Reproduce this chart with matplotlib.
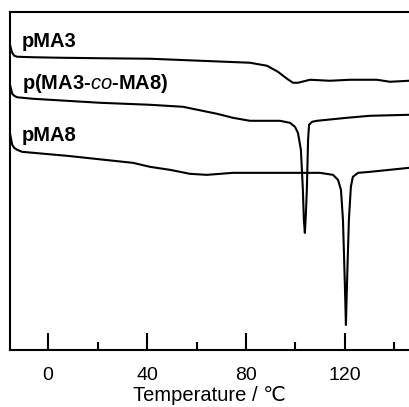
import numpy as np
import matplotlib
matplotlib.use('Agg')
import matplotlib.pyplot as plt

# DSC traces (temperature in C, heat flow in a.u.)
t_pma3 = [-15.4, -14.9, -14.5, -13.7, -12.5, -6.1, 4.8, 21.0, 41.2, 61.4, 81.6, 88.5,
          92.9, 96.6, 99.0, 101.0, 105.9, 113.9, 122.0, 132.9, 138.2, 145.9]
hf_pma3 = [30.5, 30.0, 29.7, 29.4, 29.3, 29.25, 29.2, 29.15, 29.1, 28.9, 28.7, 28.4,
           27.8, 27.1, 26.7, 26.7, 27.0, 26.9, 27.0, 27.0, 26.8, 26.9]

t_co = [-15.4, -14.9, -14.5, -13.7, -12.5, -6.1, 21.0, 41.2, 54.5, 68.3, 74.7, 81.6,
        93.7, 97.8, 99.8, 101.0, 102.2, 103.0, 103.4, 103.8, 104.2, 104.6, 105.1,
        105.5, 106.7, 108.7, 120.8, 130.1, 145.9]
hf_co = [26.5, 26.0, 25.6, 25.4, 25.25, 25.1, 24.7, 24.5, 24.3, 23.6, 23.2, 22.9,
         22.9, 22.7, 22.3, 21.7, 20.0, 16.0, 13.0, 11.7, 13.5, 16.0, 21.0,
         22.5, 22.8, 22.9, 23.2, 23.4, 23.5]

t_pma8 = [-15.4, -14.9, -14.5, -13.7, -12.5, -10.5, 7.7, 34.3, 41.2, 49.3, 57.4, 64.2,
          74.7, 94.9, 109.9, 115.2, 117.2, 118.4, 119.2, 119.6, 120.0, 120.4, 120.8,
          121.2, 121.6, 122.4, 123.2, 125.3, 130.1, 145.9]
hf_pma8 = [21.6, 21.0, 20.5, 20.2, 20.0, 19.8, 19.4, 18.7, 18.3, 18.0, 17.6, 17.5,
           17.7, 17.7, 17.7, 17.5, 17.0, 16.0, 13.0, 9.7, 6.3, 2.5, 6.3,
           9.7, 13.0, 16.3, 17.3, 17.7, 17.8, 18.2]

names = ['pMA3', 'p(MA3-$\\mathit{co}$-MA8)', 'pMA8']
label_y = [30.3, 26.1, 20.9]

major_ticks = [0, 40, 80, 120]
minor_ticks = [20, 60, 100, 140]

plt.rcParams['font.family'] = ['Liberation Sans', 'DejaVu Sans']
plt.rcParams['mathtext.fontset'] = 'custom'
plt.rcParams['mathtext.it'] = 'Liberation Sans:italic'
plt.rcParams['mathtext.rm'] = 'Liberation Sans:bold'

fig = plt.figure(figsize=(4.09, 4.07), dpi=100)
ax = fig.add_axes([10/409, 57/407, 399/409, 338.3/407])

for t, hf in [(t_pma3, hf_pma3), (t_co, hf_co), (t_pma8, hf_pma8)]:
    ax.plot(t, hf, color='black', lw=1.5, solid_joinstyle='round')

for name, y in zip(names, label_y):
    ax.text(-10.5, y, name, fontsize=14.5, fontweight='bold', va='baseline', ha='left')

ax.set_xlim(-15.4, 145.9)
ax.set_ylim(0, 33.8)
ax.set_xticks(major_ticks)
ax.set_xticks(minor_ticks, minor=True)
ax.set_yticks([])
ax.tick_params(axis='x', which='major', direction='in', length=12, width=1.5,
               labelsize=14, pad=12)
ax.tick_params(axis='x', which='minor', direction='in', length=6, width=1.5)
ax.spines['right'].set_visible(False)
for s in ['left', 'top', 'bottom']:
    ax.spines[s].set_linewidth(1.5)
ax.set_xlabel('Temperature / \u2103', fontsize=14.5, labelpad=2)

fig.savefig('out.png', dpi=100)
